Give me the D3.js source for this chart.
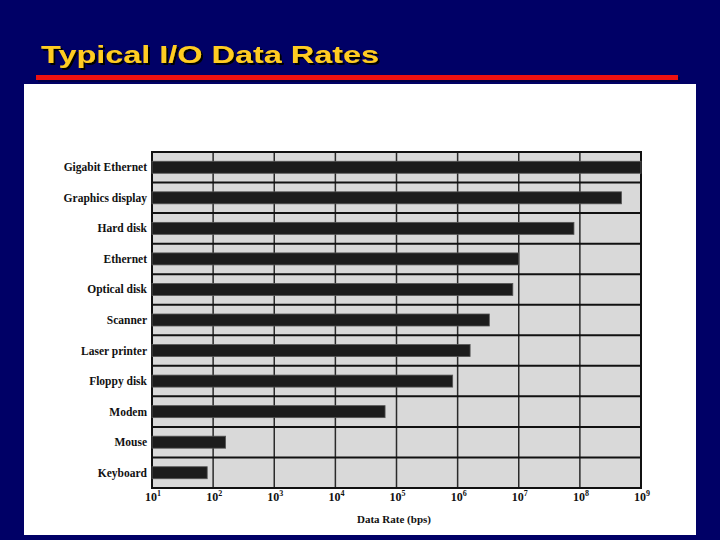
<!DOCTYPE html>
<html><head><meta charset="utf-8">
<script src="https://cdn.jsdelivr.net/npm/d3@7"></script>
<style>html,body{margin:0;padding:0;background:#000066;}svg{display:block;}</style>
</head><body>
<script>
const title = "Typical I/O Data Rates";
const categories = ["Gigabit Ethernet","Graphics display","Hard disk","Ethernet","Optical disk","Scanner","Laser printer","Floppy disk","Modem","Mouse","Keyboard"];
const rates = [1e9, 4.8e8, 8e7, 1e7, 8e6, 3.3e6, 1.6e6, 8.3e5, 6.5e4, 160, 80];
const tickExponents = [1,2,3,4,5,6,7,8,9];
const axisTitle = "Data Rate (bps)";

const W = 720, H = 540;
const svg = d3.select("body").append("svg").attr("width", W).attr("height", H);
const defs = svg.append("defs");
const f = defs.append("filter").attr("id","shadow").attr("x","-5%").attr("y","-20%").attr("width","110%").attr("height","140%");
f.append("feDropShadow").attr("dx",2).attr("dy",2).attr("stdDeviation",0.3).attr("flood-color","#000000").attr("flood-opacity",1);

svg.append("rect").attr("width", W).attr("height", H).attr("fill", "#000066");

// title with shadow
svg.append("text").attr("x", 41).attr("y", 63)
  .attr("font-family","Liberation Sans, Arial, sans-serif").attr("font-weight","bold")
  .attr("font-size", 24).attr("fill", "#FFCC22")
  .attr("textLength", 338).attr("lengthAdjust","spacingAndGlyphs")
  .attr("filter","url(#shadow)")
  .text(title);
svg.append("rect").attr("x",38).attr("y",77).attr("width",642).attr("height",5).attr("fill","#000033").attr("opacity",0.6);
svg.append("rect").attr("x",36).attr("y",75).attr("width",642).attr("height",5).attr("fill","#EE1111");

// white panel
svg.append("rect").attr("x",24).attr("y",84).attr("width",672).attr("height",451).attr("fill","#ffffff");

const x = d3.scaleLog().domain([10, 1e9]).range([152, 641]);
const y = d3.scaleBand().domain(categories).range([152, 488]).padding(0);

const plot = svg.append("g");
plot.append("rect").attr("x",152).attr("y",152).attr("width",641-152).attr("height",488-152).attr("fill","#d9d9d9");

// vertical gridlines
plot.selectAll("line.v").data(tickExponents).join("line")
  .attr("x1", d => x(Math.pow(10,d))).attr("x2", d => x(Math.pow(10,d)))
  .attr("y1",152).attr("y2",488).attr("stroke","#2a2a2a").attr("stroke-width",1.5);

// row separators
const seps = categories.map(c => y(c)).concat([488]);
plot.selectAll("line.h").data(seps).join("line")
  .attr("x1",152).attr("x2",641).attr("y1",d=>d).attr("y2",d=>d)
  .attr("stroke","#111").attr("stroke-width",2);

// borders
plot.append("line").attr("x1",641).attr("x2",641).attr("y1",151).attr("y2",489).attr("stroke","#111").attr("stroke-width",2);
plot.append("line").attr("x1",152).attr("x2",152).attr("y1",151).attr("y2",489).attr("stroke","#111").attr("stroke-width",2);

// bars
const barH = 12;
plot.selectAll("rect.bar").data(categories).join("rect")
  .attr("x", x(10))
  .attr("y", d => y(d) + y.bandwidth()/2 - barH/2)
  .attr("width", (d,i) => x(rates[i]) - x(10))
  .attr("height", barH)
  .attr("fill","#1c1c1c").attr("stroke","#555").attr("stroke-width",0.8);

// category labels
svg.selectAll("text.cat").data(categories).join("text")
  .attr("x",147).attr("y", d => y(d) + y.bandwidth()/2 + 4)
  .attr("text-anchor","end")
  .attr("font-family","Liberation Serif, Times New Roman, serif").attr("font-weight","bold")
  .attr("font-size",11.5).attr("fill","#111")
  .text(d => d);

// tick labels
const tl = svg.selectAll("text.tick").data(tickExponents).join("text")
  .attr("x", d => x(Math.pow(10,d)) + 1).attr("y", 501)
  .attr("text-anchor","middle")
  .attr("font-family","Liberation Serif, Times New Roman, serif").attr("font-weight","bold")
  .attr("font-size",12).attr("fill","#111");
tl.append("tspan").text("10");
tl.append("tspan").attr("dy",-5).attr("font-size",8).text(d => d);

// axis title
svg.append("text").attr("x",394).attr("y",523).attr("text-anchor","middle")
  .attr("font-family","Liberation Serif, Times New Roman, serif").attr("font-weight","bold")
  .attr("font-size",11).attr("fill","#111").text(axisTitle);
</script>
</body></html>
